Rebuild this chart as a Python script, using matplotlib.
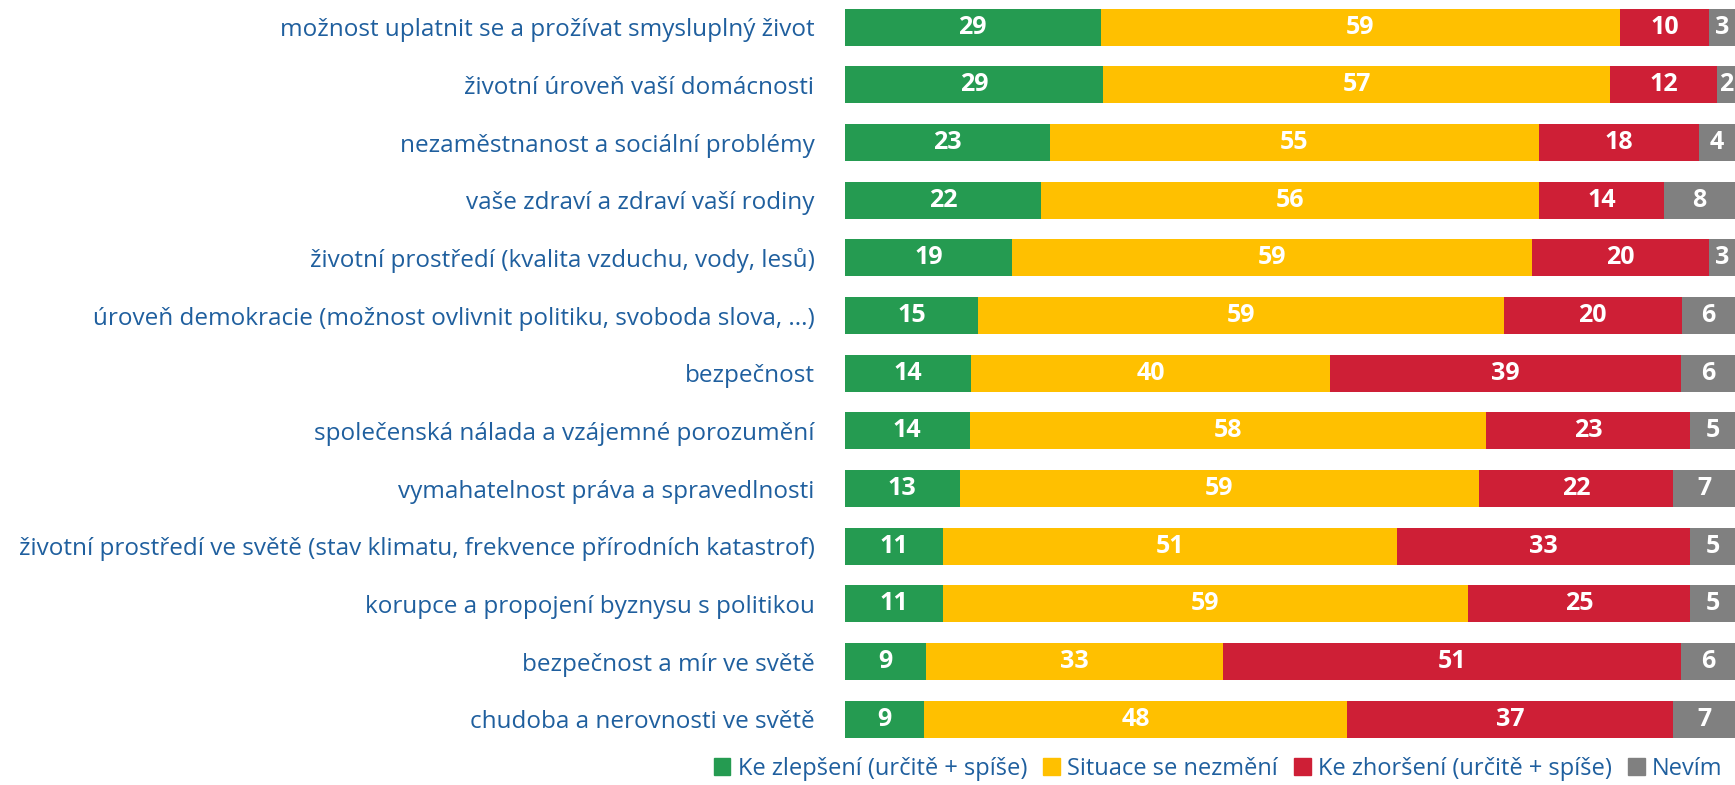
import numpy as np
from matplotlib import pyplot as plt
from matplotlib.patches import Patch

categories = [
    'možnost uplatnit se a prožívat smysluplný život',
    'životní úroveň vaší domácnosti',
    'nezaměstnanost a sociální problémy',
    'vaše zdraví a zdraví vaší rodiny',
    'životní prostředí (kvalita vzduchu, vody, lesů)',
    'úroveň demokracie (možnost ovlivnit politiku, svoboda slova, ...)',
    'bezpečnost',
    'společenská nálada a vzájemné porozumění',
    'vymahatelnost práva a spravedlnosti',
    'životní prostředí ve světě (stav klimatu, frekvence přírodních katastrof)',
    'korupce a propojení byznysu s politikou',
    'bezpečnost a mír ve světě',
    'chudoba a nerovnosti ve světě',
]
better = [29, 29, 23, 22, 19, 15, 14, 14, 13, 11, 11, 9, 9]
same = [59, 57, 55, 56, 59, 59, 40, 58, 59, 51, 59, 33, 48]
worse = [10, 12, 18, 14, 20, 20, 39, 23, 22, 33, 25, 51, 37]
dunno = [3, 2, 4, 8, 3, 6, 6, 5, 7, 5, 5, 6, 7]

series_names = ['Ke zlepšení (určitě + spíše)', 'Situace se nezmění',
                'Ke zhoršení (určitě + spíše)', 'Nevím']
colors = ['#259B51', '#FFC000', '#CE1F36', '#808080']
label_color = '#1F5F9E'

plt.rcParams['font.family'] = ['Open Sans', 'DejaVu Sans']

fig = plt.figure(figsize=(17.35, 7.85), dpi=100)
ax = fig.add_axes([0.487, 0.047, 0.513, 0.955])

data = np.array([better, same, worse, dunno], dtype=float)
shares = data / data.sum(axis=0) * 100  # 100% stacked rows

y = np.arange(len(categories))
left = np.zeros(len(categories))
for name, vals, widths, col in zip(series_names, data, shares, colors):
    bars = ax.barh(y, widths, left=left, height=0.64, color=col, label=name)
    for b, v in zip(bars, vals):
        ax.text(b.get_x() + b.get_width() / 2, b.get_y() + b.get_height() / 2,
                f'{int(v)}', ha='center', va='center', color='white',
                fontsize=18, fontweight='bold')
    left += widths

ax.set_xlim(0, 100)
ax.set_ylim(len(categories) - 0.5, -0.5)
ax.set_yticks(y)
ax.set_yticklabels(categories, fontsize=17.5, color=label_color)
ax.tick_params(axis='y', length=0, pad=22)
ax.set_xticks([])
for s in ax.spines.values():
    s.set_visible(False)

handles = [Patch(color=c) for c in colors]
fig.legend(handles, series_names, loc='lower right', bbox_to_anchor=(1.005, -0.022),
           ncol=4, frameon=False, fontsize=17, labelcolor=label_color,
           handlelength=0.7, handleheight=0.7, handletextpad=0.3, columnspacing=0.7)

fig.savefig('out.png', dpi=100)
plt.close(fig)
